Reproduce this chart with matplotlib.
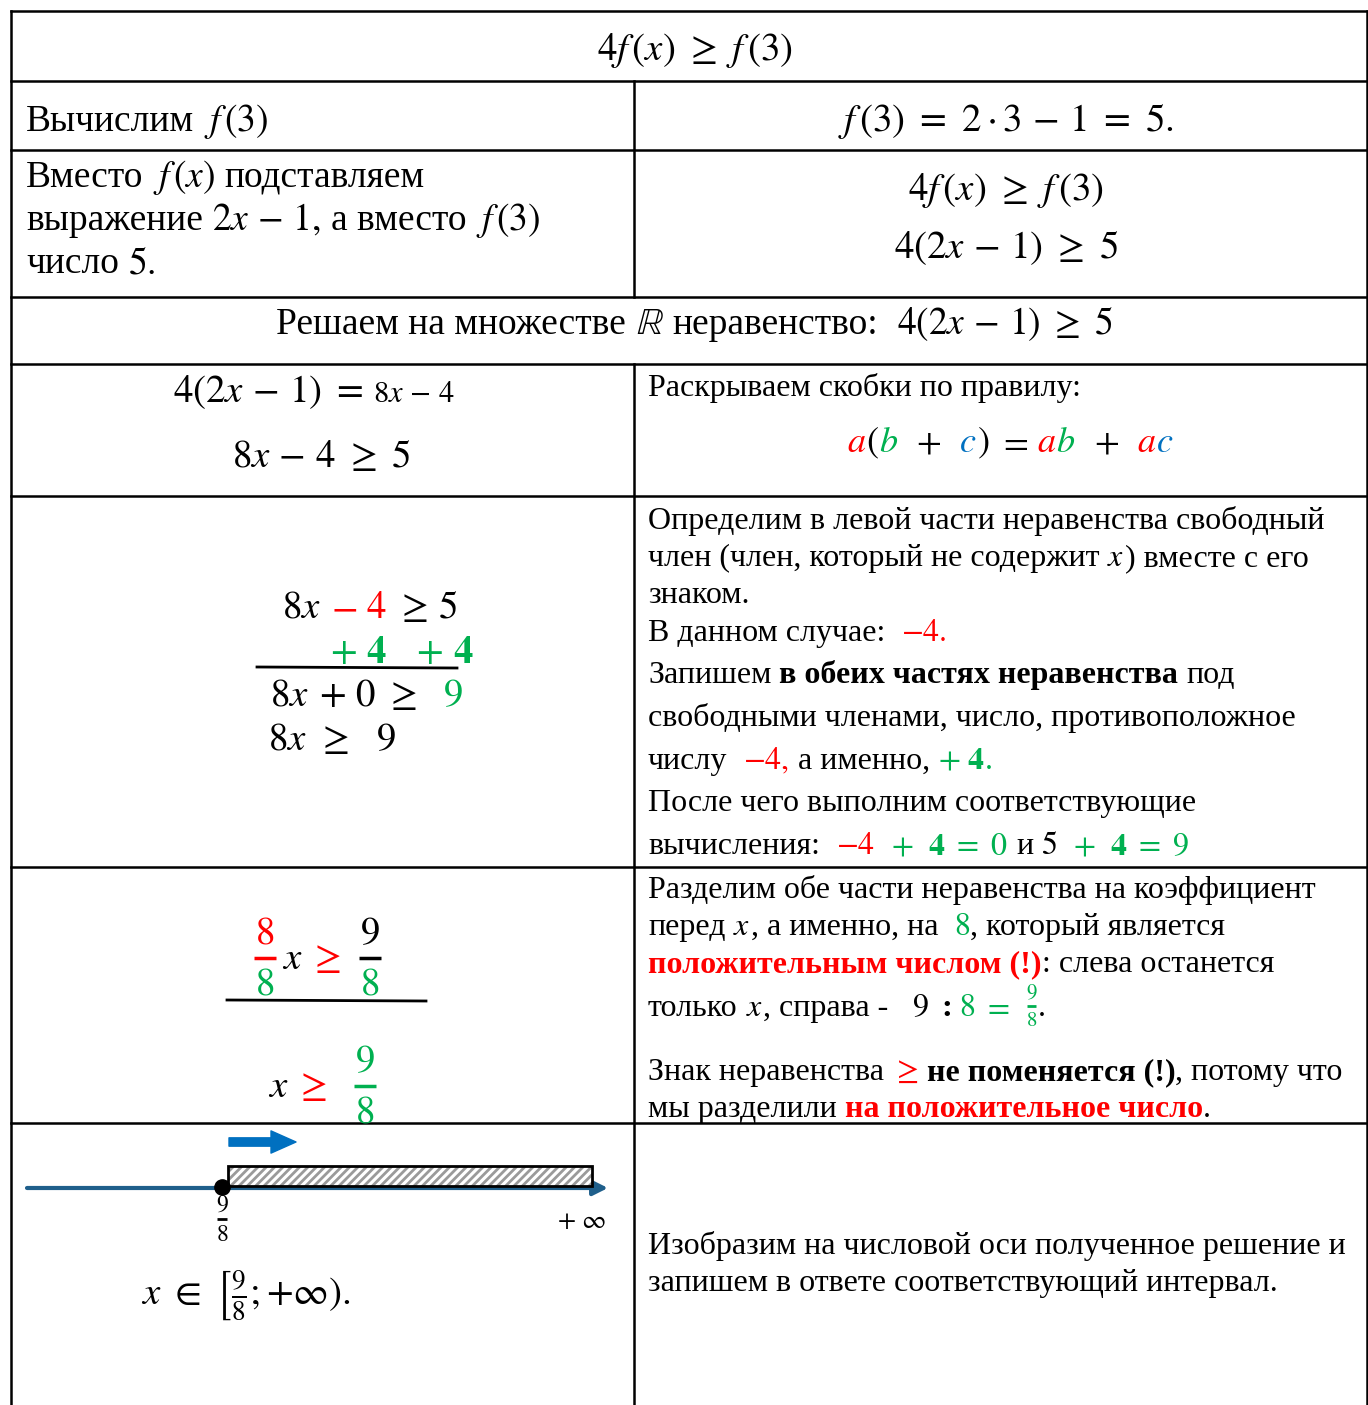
import matplotlib
matplotlib.use('Agg')
import matplotlib.pyplot as plt
from matplotlib.patches import Rectangle

plt.rcParams['mathtext.fontset'] = 'stix'
plt.rcParams['hatch.linewidth'] = 2.0
SERIF = ['Liberation Serif', 'DejaVu Serif']
DPI = 100
W, H = 1368, 1405

COL = {'k': 'black', 'r': '#FF0000', 'g': '#00B050', 'b': '#0070C0'}
AXIS_BLUE = '#1F5F8B'

# ==================== тексты ячеек ====================
TITLE = [r'$4f\,(x)\ \geq\ f\,(3)$']
CALC_LEFT = ['Вычислим ', r'$f\,(3)$']
CALC_RIGHT = [r'$f\,(3)\ =\ 2\cdot 3\,-\,1\ =\ 5.$']
SUBST_LEFT = [
    ['Вместо ', r'$f\,(x)$', ' подставляем'],
    ['выражение ', r'$2x\,-\,1,$', ' а вместо ', r'$f\,(3)$'],
    ['число ', r'$5.$'],
]
SUBST_RIGHT = [[r'$4f\,(x)\ \geq\ f\,(3)$'], [r'$4(2x\,-\,1)\ \geq\ 5$']]
SOLVE_HEAD = ['Решаем на множестве ', r'$\mathbb{R}$', ' неравенство:  ',
              r'$4(2x\,-\,1)\ \geq\ 5$']

EXPAND_LEFT = [r'$4(2x\,-\,1)\ =$', r'$8x\,-\,4$']
EXPAND_LEFT2 = r'$8x\,-\,4\ \geq\ 5$'
EXPAND_RULE = 'Раскрываем скобки по правилу:'
EXPAND_FORMULA = [(r'$a$', 'r'), (r'$($',), (r'$b$', 'g'), '  ', (r'$+$',), '  ', (r'$c$', 'b'),
                  (r'$)$',), ' ', (r'$=$',), ' ', (r'$a$', 'r'), (r'$b$', 'g'), '  ', (r'$+$',),
                  '  ', (r'$a$', 'r'), (r'$c$', 'b')]

SHIFT_LEFT = [
    [(r'$8x$',), ' ', (r'$-$', 'r'), ' ', (r'$4$', 'r'), ' ', (r'$\geq$',), ' ', (r'$5$',)],
    [(r'$+$', 'g'), ' ', (r'$\mathbf{4}$', 'g'), '   ', (r'$+$', 'g'), ' ', (r'$\mathbf{4}$', 'g')],
    [(r'$8x$',), ' ', (r'$+$',), ' ', (r'$0$',), ' ', (r'$\geq$',)],
    [(r'$8x$',), ' ', (r'$\geq$',)],
]
SHIFT_RESULT = [(r'$9$', 'g'), (r'$9$',)]

SHIFT_TEXT = [
    [('Определим в левой части неравенства свободный',)],
    [('член (член, который не содержит ',), (r'$x$',), (') вместе с его',)],
    [('знаком.',)],
    [('В данном случае:  ',), (r'$-4.$', 'r')],
    [('Запишем ',), ('в обеих частях неравенства', 'k', 'b'), (' под',)],
    [('свободными членами, число, противоположное',)],
    [('числу  ',), (r'$-4,$', 'r'), (' а именно, ',), (r'$+\ \mathbf{4}$', 'g'), ('.', 'g')],
    [('После чего выполним соответствующие',)],
    [('вычисления:  ',), (r'$-4$', 'r'), '  ', (r'$+\ \ \mathbf{4}\ =\ 0$', 'g'), (' и ',),
     (r'$5$',), '  ', (r'$+\ \ \mathbf{4}\ =\ 9$', 'g')],
]

DIVIDE_TEXT = [
    [('Разделим обе части неравенства на коэффициент',)],
    [('перед ',), (r'$x$',), (', а именно, на  ',), (r'$8$', 'g'), (', который является',)],
    [('положительным числом (!)', 'r', 'b'), (': слева останется',)],
]
DIVIDE_TAIL = [('только ',), (r'$x$',), (', справа -   ',), (r'$9$',), ' ', (r'$\mathbf{:}$',),
               ' ', (r'$8$', 'g'), ' ', (r'$=$', 'g'), '  ']
SIGN_TEXT = [
    [('Знак неравенства ',), (r'$\geq$', 'r'), ' ', ('не поменяется (!)', 'k', 'b'),
     (', потому что',)],
    [('мы разделили ',), ('на положительное число', 'r', 'b'), ('.',)],
]
PLOT_TEXT = ['Изобразим на числовой оси полученное решение и',
             'запишем в ответе соответствующий интервал.']
BOUND_NUM, BOUND_DEN = '9', '8'
ANSWER = r'$x\ \in\ \left[\frac{9}{8}\right.;{+}\infty).$'

# ==================== холст ====================
fig = plt.figure(figsize=(W / DPI, H / DPI), dpi=DPI)
ax = fig.add_axes([0, 0, 1, 1])
ax.set_xlim(0, W)
ax.set_ylim(H, 0)
ax.axis('off')
renderer = fig.canvas.get_renderer()


def runs(x, y, parts, size, ha='left'):
    """Рисует строку из цветных кусков, стыкуя их по ширине."""
    em = size * DPI / 72
    cx = x
    made = []
    for p in parts:
        if isinstance(p, str):
            p = (p,)
        txt = p[0]
        core = txt.strip(' ')
        if not core:
            cx += len(txt) * 0.25 * em
            continue
        col = COL[p[1]] if len(p) > 1 else 'black'
        bold = len(p) > 2 and p[2] == 'b'
        lead = len(txt) - len(txt.lstrip(' '))
        trail = len(txt) - len(txt.rstrip(' '))
        cx += lead * 0.25 * em
        t = ax.text(cx, y, core, fontsize=size, color=col, family=SERIF,
                    fontweight='bold' if bold else 'normal',
                    va='baseline', ha='left')
        cx += t.get_window_extent(renderer).width
        made.append(t)
        cx += trail * 0.25 * em
    if ha == 'center':
        shift = (cx - x) / 2
        for t in made:
            t.set_x(t.get_position()[0] - shift)
        cx -= shift
    return cx


def frac(xc, ybar, num, den, size, cn='k', cb='k', cd='k', bw=None, lw=2.5):
    em = size * DPI / 72
    if bw is None:
        bw = 0.55 * em
    ax.text(xc, ybar - 0.36 * em, '$' + num + '$', fontsize=size, color=COL[cn],
            ha='center', va='baseline')
    ax.plot([xc - bw / 2, xc + bw / 2], [ybar, ybar], color=COL[cb], lw=lw,
            solid_capstyle='butt')
    ax.text(xc, ybar + 0.28 * em + 0.66 * em, '$' + den + '$', fontsize=size,
            color=COL[cd], ha='center', va='baseline')


# ---------- сетка таблицы ----------
LW = 1.8
XL, XM, XR = 11, 634, 1367
rows = [11, 81, 150, 297, 364, 496, 867, 1123]
for yy in rows:
    ax.plot([XL, W], [yy, yy], color='black', lw=LW)
ax.plot([XL, XL], [11, H], color='black', lw=LW)
ax.plot([XR, XR], [11, H], color='black', lw=LW)
ax.plot([XM, XM], [81, 297], color='black', lw=LW)
ax.plot([XM, XM], [364, H], color='black', lw=LW)

BIG = 27
TXT = 23
MATH = 28

# ---------- строки 1-4 ----------
runs(695, 60, TITLE, MATH, ha='center')
runs(26, 131, CALC_LEFT, BIG)
runs(1006, 131, CALC_RIGHT, MATH, ha='center')
for i, ln in enumerate(SUBST_LEFT):
    runs(26, 187 + 43 * i, ln, BIG)
runs(1006, 200, SUBST_RIGHT[0], MATH, ha='center')
runs(1006, 258, SUBST_RIGHT[1], MATH, ha='center')
runs(695, 334, SOLVE_HEAD, BIG, ha='center')

# ---------- строка 5 ----------
xe = runs(173, 402, [EXPAND_LEFT[0], ' '], MATH)
runs(xe, 402, [EXPAND_LEFT[1]], 22)
runs(322, 467, [EXPAND_LEFT2], MATH, ha='center')
runs(648, 396, [EXPAND_RULE], TXT)
runs(1010, 452, EXPAND_FORMULA, 26, ha='center')

# ---------- строка 6 ----------
for (x0, y0), ln in zip([(282, 618), (330, 663), (270, 706), (268, 750)], SHIFT_LEFT):
    runs(x0, y0, ln, MATH)
ax.plot([257, 457], [667, 668], color='black', lw=2)
runs(443, 706, [SHIFT_RESULT[0]], MATH)
runs(376, 750, [SHIFT_RESULT[1]], MATH)

ys6 = [529, 566, 603, 641, 683, 726, 769, 811, 854]
for y, ln in zip(ys6, SHIFT_TEXT):
    runs(648, y, ln, TXT)

# ---------- строка 7 ----------
frac(265, 958, '8', '8', MATH, cn='r', cb='r', cd='g')
runs(282, 969, [(r'$x$',)], MATH)
runs(309, 969, [(r'$\geq$', 'r')], MATH)
frac(370, 958, '9', '8', MATH, cn='k', cb='k', cd='g')
ax.plot([227, 426], [1000, 1001], color='black', lw=2)
runs(268, 1097, [(r'$x$',)], MATH)
runs(295, 1097, [(r'$\geq$', 'r')], MATH)
frac(365, 1086, '9', '8', MATH, cn='g', cb='g', cd='g')

for i, ln in enumerate(DIVIDE_TEXT):
    runs(648, 898 + 37 * i, ln, TXT)
xe = runs(648, 1016, DIVIDE_TAIL, TXT)
frac(xe + 5, 1006, '9', '8', 15, cn='g', cb='g', cd='g', bw=9, lw=2)
runs(xe + 11, 1016, ['.'], TXT)
for i, ln in enumerate(SIGN_TEXT):
    runs(648, 1080 + 37 * i, ln, TXT)

# ---------- строка 8: числовая ось ----------
ax.annotate('', xy=(608, 1188), xytext=(27, 1188),
            arrowprops=dict(arrowstyle='-|>', color=AXIS_BLUE, lw=3,
                            mutation_scale=22, shrinkA=0, shrinkB=0))
ax.add_patch(Rectangle((228, 1166), 364, 20, facecolor='white', edgecolor='#9a9a9a',
                       hatch='////', lw=0, zorder=3))
ax.add_patch(Rectangle((228, 1166), 364, 20, facecolor='none', edgecolor='black',
                       lw=2, zorder=4))
ax.plot(222, 1187, 'o', ms=11, color='black', zorder=5)
ax.annotate('', xy=(296, 1142), xytext=(229, 1142),
            arrowprops=dict(arrowstyle='simple,head_length=0.9,head_width=0.8,tail_width=0.3',
                            color=COL['b'], mutation_scale=20, shrinkA=0, shrinkB=0))
frac(222, 1219, BOUND_NUM, BOUND_DEN, 17, bw=10, lw=2)
runs(581, 1228, [r'$+\ \infty$'], 19, ha='center')
runs(246, 1305, [ANSWER], MATH, ha='center')

for i, ln in enumerate(PLOT_TEXT):
    runs(648, 1254 + 37 * i, [ln], TXT)

fig.savefig('out.png', dpi=DPI)
